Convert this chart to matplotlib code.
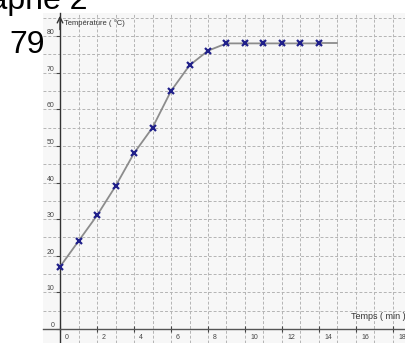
import matplotlib.pyplot as plt
import matplotlib.transforms as mtransforms
from matplotlib.ticker import MultipleLocator

plt.rcParams['font.family'] = ['Liberation Sans', 'DejaVu Sans']

temps = [0, 1, 2, 3, 4, 5, 6, 7, 8, 9, 10, 11, 12, 13, 14]
temperature = [17, 24, 31, 39, 48, 55, 65, 72, 76, 78, 78, 78, 78, 78, 78]
temps_fin = [14, 15]
temperature_fin = [78, 78]

fig = plt.figure(figsize=(4.05, 3.43), dpi=100)
ax = fig.add_axes([43 / 405, 0, 1 - 43 / 405, 330 / 343])
ax.set_facecolor('#f7f7f7')

ax.set_xlim(-0.92, 18.65)
ax.set_ylim(-3.83, 86.3)

# axes through the origin
for s in ['top', 'right']:
    ax.spines[s].set_visible(False)
ax.spines['left'].set_position(('data', 0))
ax.spines['bottom'].set_position(('data', 0))
ax.spines['left'].set_color('#333333')
ax.spines['bottom'].set_color('#555555')
ax.spines['left'].set_linewidth(1.0)
ax.spines['bottom'].set_linewidth(1.0)

ax.xaxis.set_minor_locator(MultipleLocator(1))
ax.yaxis.set_minor_locator(MultipleLocator(5))
ax.set_xticks(range(0, 19, 2))
ax.set_yticks(range(0, 81, 10))
ax.tick_params(axis='x', which='major', direction='inout', length=5, width=0.8,
               colors='#444444', labelsize=5, pad=1)
ax.tick_params(axis='y', which='major', direction='out', length=3, width=0.8,
               colors='#444444', labelsize=5, pad=1)
ax.tick_params(which='minor', length=0)

for lab in ax.get_xticklabels():
    lab.set_horizontalalignment('left')
    lab.set_transform(lab.get_transform() + mtransforms.ScaledTranslation(5 / 100, 0, fig.dpi_scale_trans))
for lab in ax.get_yticklabels():
    lab.set_verticalalignment('bottom')

ax.grid(True, which='both', color='#b4b4b4', linestyle=(0, (3, 2)), linewidth=0.7)
ax.set_axisbelow(True)

# arrow on top of y axis
ax.annotate('', xy=(0, 86.3), xytext=(0, 81), xycoords='data',
            arrowprops=dict(arrowstyle='->', color='#333333', lw=1.0))

ax.plot(temps_fin, temperature_fin, color='#8c8c8c', lw=1.3, zorder=3)
ax.plot(temps, temperature, color='#8c8c8c', lw=1.3, zorder=3)
ax.plot(temps, temperature, linestyle='none', marker='x', color='#20208a',
        markersize=4.5, mew=1.6, zorder=4)

ax.text(0.2, 83.5, 'Température ( °C)', fontsize=5.5, color='#333333',
        ha='left', va='center')
ax.text(18.7, 3.5, 'Temps ( min )', fontsize=6.5, color='#333333',
        ha='right', va='center')

fig.text(27 / 405, 1 - 45 / 343, '79', fontsize=23, color='black',
         ha='center', va='center')
fig.text(88 / 405, 1 - 9 / 343, 'Graphe 2', fontsize=23, color='black',
         ha='right', va='baseline')

fig.savefig('out.png', dpi=100)
